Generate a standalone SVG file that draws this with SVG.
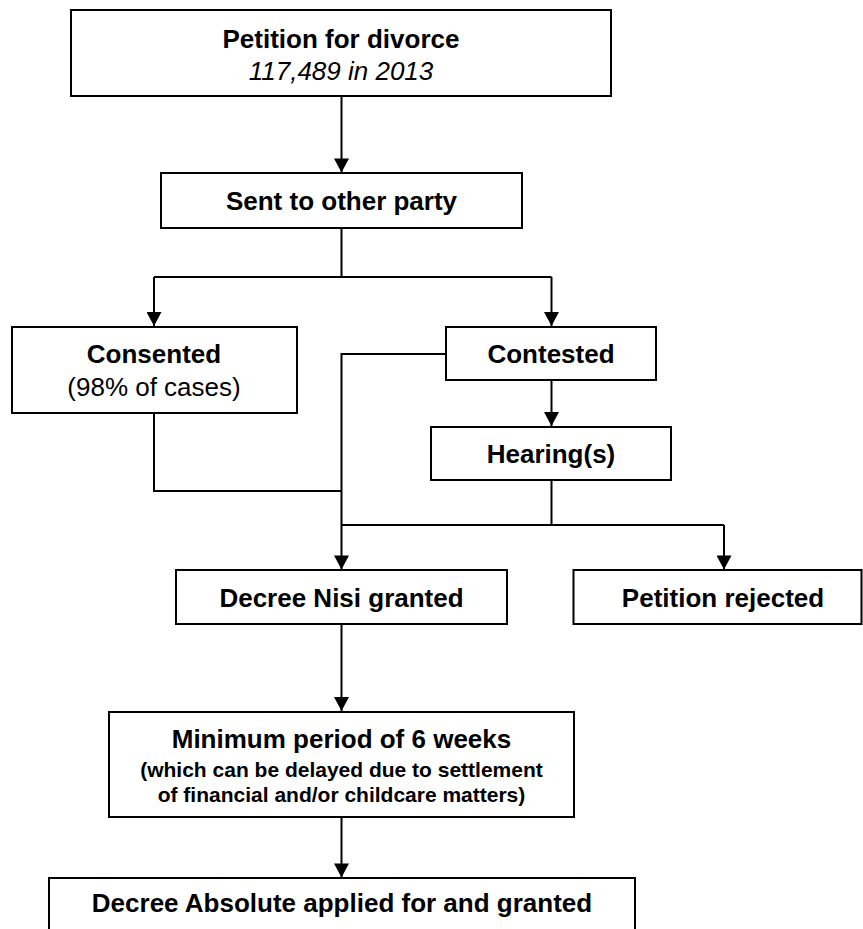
<svg xmlns="http://www.w3.org/2000/svg" width="863" height="929" viewBox="0 0 863 929">
<defs>
<style>
.box{fill:#fff;stroke:#000;stroke-width:2}
.ln{fill:none;stroke:#000;stroke-width:2;marker-end:none}
.ar{fill:none;stroke:#000;stroke-width:2;marker-end:url(#ah)}
text{font-family:"Liberation Sans",Arial,sans-serif;font-size:26px;fill:#000;text-anchor:middle}
.b{font-weight:bold}
.i{font-style:italic}
.s{font-size:21px;font-weight:bold}
</style>
<marker id="ah" markerUnits="userSpaceOnUse" markerWidth="15" markerHeight="15" viewBox="0 0 14 15" refX="14" refY="7.5" orient="auto">
<path d="M0,0 L14,7.5 L0,15 z" fill="#000"/>
</marker>
</defs>
<rect width="863" height="929" fill="#fff"/>
<g id="connectors">
<path class="ar" d="M341.5,96 V172.5"/>
<path class="ln" d="M341.5,228 V277 M154,277 H551.5"/>
<path class="ar" d="M154,277 V326"/>
<path class="ar" d="M551.5,277 V326"/>
<path class="ar" d="M551.5,380 V426"/>
<path class="ln" d="M154,413 V491 H341.5"/>
<path class="ar" d="M446,354 H341.5 V569.5"/>
<path class="ln" d="M551.5,480 V525 M341.5,525 H724"/>
<path class="ar" d="M724,525 V569.5"/>
<path class="ar" d="M341.5,624 V711"/>
<path class="ar" d="M341.5,817 V877.5"/>
</g>
<g id="petition">
<rect class="box" x="71" y="10" width="540" height="86"/>
<text class="b" x="341" y="48">Petition for divorce</text>
<text class="i" x="341" y="80">117,489 in 2013</text>
</g>
<g id="sent">
<rect class="box" x="161" y="173" width="361" height="55"/>
<text class="b" x="341.5" y="210">Sent to other party</text>
</g>
<g id="consented">
<rect class="box" x="12" y="327" width="285" height="86"/>
<text class="b" x="154" y="363">Consented</text>
<text x="154" y="396">(98% of cases)</text>
</g>
<g id="contested">
<rect class="box" x="446" y="327" width="210" height="53"/>
<text class="b" x="551" y="363">Contested</text>
</g>
<g id="hearing">
<rect class="box" x="431" y="427" width="240" height="53"/>
<text class="b" x="551" y="463">Hearing(s)</text>
</g>
<g id="nisi">
<rect class="box" x="176" y="570" width="331" height="54"/>
<text class="b" x="341.5" y="606.5">Decree Nisi granted</text>
</g>
<g id="rejected">
<rect class="box" x="573.5" y="570" width="288" height="54"/>
<text class="b" x="723" y="606.5">Petition rejected</text>
</g>
<g id="minimum">
<rect class="box" x="109" y="712" width="465" height="105"/>
<text class="b" x="341.5" y="748">Minimum period of 6 weeks</text>
<text class="s" x="341.5" y="777">(which can be delayed due to settlement</text>
<text class="s" x="341.5" y="802">of financial and/or childcare matters)</text>
</g>
<g id="absolute">
<rect class="box" x="49" y="878" width="586" height="70"/>
<text class="b" x="342" y="912">Decree Absolute applied for and granted</text>
</g>
</svg>
